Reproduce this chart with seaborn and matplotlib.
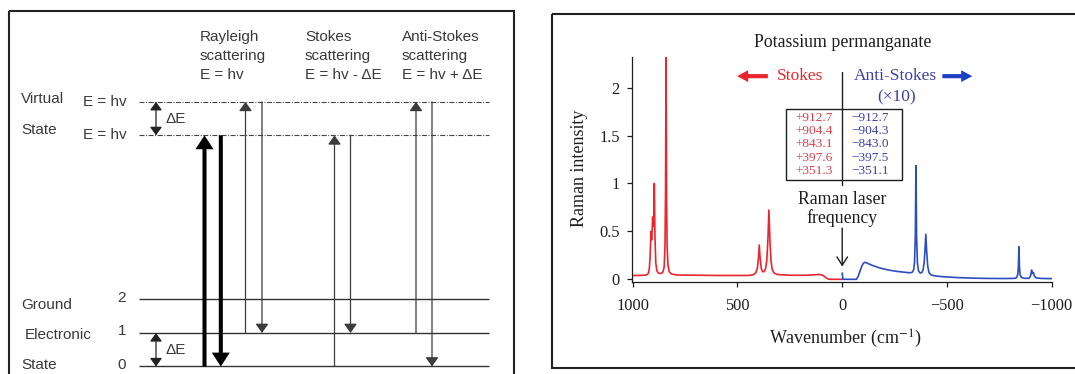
import matplotlib
matplotlib.use("Agg")
import matplotlib.pyplot as plt
from matplotlib.patches import Rectangle
import seaborn as sns

# ---------------------------------------------------------------- data
# Energy-level diagram (energies in units of one vibrational quantum)
ground_levels = [0, 1, 2]
ground_level_labels = ["0", "1", "2"]
photon_energy = 6.9          # virtual state reached by the photon, E = hv
delta_e = 1.0                # vibrational quantum

process_titles = [
    ["Rayleigh", "scattering", "E = hv"],
    ["Stokes", "scattering", "E = hv - \u0394E"],
    ["Anti-Stokes", "scattering", "E = hv + \u0394E"],
]

# Raman spectrum of KMnO4: Stokes side (red) and anti-Stokes side (blue, x10)
stokes_wavenumber = [1000, 960, 935, 926, 921, 917, 913, 910, 907.5, 905,
                     902, 899.5, 897, 894, 890, 885, 878, 865, 856, 850,
                     846, 843.5, 841, 838.5, 836, 832, 826, 815, 790, 600,
                     450, 425, 412, 405, 400, 396, 392, 386, 380, 373,
                     366, 360, 355, 350, 345, 340, 334, 325, 310, 250,
                     180, 140, 115, 100, 92, 84, 76, 68, 60, 30,
                     0]
stokes_intensity = [0.040, 0.041, 0.045, 0.06, 0.11, 0.24, 0.50, 0.41, 0.50, 0.65,
                    0.55, 0.68, 1.00, 0.45, 0.17, 0.09, 0.065, 0.06, 0.075, 0.13,
                    0.35, 0.90, 2.32, 0.90, 0.35, 0.15, 0.08, 0.055, 0.045, 0.040,
                    0.040, 0.047, 0.07, 0.12, 0.22, 0.358, 0.22, 0.11, 0.08, 0.08,
                    0.11, 0.20, 0.40, 0.723, 0.40, 0.19, 0.10, 0.065, 0.05, 0.042,
                    0.042, 0.046, 0.05, 0.048, 0.04, 0.028, 0.015, 0.005, 0.0, 0.0,
                    0.0]

anti_stokes_wavenumber = [0, -3, -40, -68, -76, -84, -92, -100, -108, -116,
                          -130, -150, -180, -220, -260, -300, -325, -335, -341, -345,
                          -349, -352, -355, -359, -364, -372, -380, -386, -391, -395,
                          -399, -403, -408, -414, -425, -445, -480, -550, -625, -700,
                          -780, -825, -833, -838, -841, -843.5, -846, -849, -855, -870,
                          -890, -897, -901, -904, -907, -910, -913, -917, -925, -950,
                          -1000]
anti_stokes_intensity = [0.065, 0.0, 0.0, 0.0, 0.03, 0.08, 0.13, 0.165, 0.178, 0.172,
                         0.158, 0.14, 0.118, 0.097, 0.083, 0.073, 0.068, 0.075, 0.10, 0.17,
                         0.45, 1.186, 0.45, 0.17, 0.09, 0.065, 0.07, 0.10, 0.17, 0.30,
                         0.47, 0.30, 0.14, 0.07, 0.045, 0.035, 0.027, 0.018, 0.012, 0.009,
                         0.008, 0.01, 0.02, 0.05, 0.13, 0.34, 0.13, 0.05, 0.02, 0.01,
                         0.01, 0.025, 0.055, 0.097, 0.06, 0.065, 0.07, 0.035, 0.015, 0.009,
                         0.007]

stokes_shifts = ["+912.7", "+904.4", "+843.1", "+397.6", "+351.3"]
anti_stokes_shifts = ["\u2212912.7", "\u2212904.3", "\u2212843.0", "\u2212397.5", "\u2212351.1"]

x_ticks = [1000, 500, 0, -500, -1000]
y_ticks = [0, 0.5, 1, 1.5, 2]
y_tick_labels = ["0", "0.5", "1", "1.5", "2"]

# ---------------------------------------------------------------- style
sns.set_theme(style="ticks")
plt.rcParams["font.family"] = ["Liberation Serif", "DejaVu Serif"]
plt.rcParams["mathtext.fontset"] = "stix"

RED = "#E8262E"
BLUE = "#2C4DBE"
RED_TXT = "#D9404C"
BLUE_TXT = "#3C40A6"
INK = "#1E1E1E"
GREY = "#3A3A3A"
SANS = ["Liberation Sans", "DejaVu Sans"]

W, H = 1075, 374
fig = plt.figure(figsize=(W / 100, H / 100), dpi=100)
fig.patch.set_facecolor("white")

# panel frames
frame = fig.add_axes([0, 0, 1, 1])
frame.set_xlim(0, W)
frame.set_ylim(H, 0)
frame.axis("off")
frame.add_patch(Rectangle((8.5, 11), 505, 380, fill=False, lw=1.5, ec="#222222"))
frame.add_patch(Rectangle((551.7, 14), 540, 354.3, fill=False, lw=1.5, ec="#222222"))

# ---------------------------------------------------------------- left: energy diagram
diag = fig.add_axes([0, 0, 540 / W, 1])
diag.set_xlim(0, 540)
diag.set_ylim(-0.224, 10.94)
diag.axis("off")

line_x0, line_x1 = 139, 489
txt = dict(fontsize=11, color=GREY, family=SANS)

for lvl, lab in zip(ground_levels, ground_level_labels):
    diag.hlines(lvl, line_x0, line_x1, color="#333333", lw=1.0)
    diag.text(122, lvl + 0.05, lab, ha="center", va="center", **txt)

virtual_levels = [photon_energy, photon_energy + delta_e]
for v in virtual_levels:
    diag.hlines(v, line_x0, line_x1, color="#444444", lw=0.8,
                linestyles=(0, (4.5, 1.4, 0.9, 1.4)))
    diag.text(83, v, "E = hv", ha="left", va="center", **txt)

diag.text(21, 7.985, "Virtual", ha="left", va="center", **txt)
diag.text(21, 7.06, "State", ha="left", va="center", **txt)
diag.text(21, 1.836, "Ground", ha="left", va="center", **txt)
diag.text(25, 0.955, "Electronic", ha="left", va="center", **txt)
diag.text(21, 0.045, "State", ha="left", va="center", **txt)

# column headings
for x_col, rows in zip([199.5, 305, 401.5], process_titles):
    for e_row, row in zip([9.83, 9.28, 8.70], rows):
        diag.text(x_col, e_row, row, ha="left", va="center", **txt)

# delta-E markers
gaps = [(photon_energy, photon_energy + delta_e), (ground_levels[0], ground_levels[1])]
for lo, hi in gaps:
    diag.annotate("", xy=(156, hi), xytext=(156, lo),
                  arrowprops=dict(arrowstyle="<|-|>,head_length=5,head_width=3.6",
                                  mutation_scale=1, lw=0.9, color="#222222",
                                  shrinkA=0, shrinkB=0))
    diag.text(166, (lo + hi) / 2, "\u0394E", ha="left", va="center", **txt)

thick = dict(arrowstyle="simple,head_length=10,head_width=13,tail_width=2.9",
             mutation_scale=1, fc="black", ec="none", shrinkA=0, shrinkB=0)
thin = dict(arrowstyle="-|>,head_length=5.5,head_width=3.9",
            mutation_scale=1, lw=0.9, color="#3C3C3C", shrinkA=0, shrinkB=0)

upper = photon_energy + delta_e
transitions = [
    (204.5, ground_levels[0], photon_energy, thick),
    (220.8, photon_energy, ground_levels[0], thick),
    (245.5, ground_levels[1], upper, thin),
    (262.0, upper, ground_levels[1], thin),
    (334.5, ground_levels[0], photon_energy, thin),
    (350.5, photon_energy, ground_levels[1], thin),
    (416.0, ground_levels[1], upper, thin),
    (432.0, upper, ground_levels[0], thin),
]
for x_arr, e_from, e_to, style in transitions:
    diag.annotate("", xy=(x_arr, e_to), xytext=(x_arr, e_from), arrowprops=style)

# ---------------------------------------------------------------- right: Raman spectrum
ax = fig.add_axes([631.7 / W, 1 - 281.7 / H, 420 / W, 225 / H])
ax.patch.set_alpha(0)

sns.lineplot(x=stokes_wavenumber, y=stokes_intensity, ax=ax, color=RED, lw=1.2,
             sort=False, estimator=None)
sns.lineplot(x=anti_stokes_wavenumber, y=anti_stokes_intensity, ax=ax, color=BLUE,
             lw=1.2, sort=False, estimator=None)

ax.set_xlim(1005, -1000)
ax.set_ylim(-0.025, 2.323)
ax.set_xticks(x_ticks)
ax.set_yticks(y_ticks)
ax.set_yticklabels(y_tick_labels)
sns.despine(ax=ax)
for side in ("left", "bottom"):
    ax.spines[side].set_color(INK)
    ax.spines[side].set_linewidth(0.9)
ax.tick_params(axis="both", direction="out", length=3.5, width=0.9, colors=INK,
               labelsize=11.8)
ax.tick_params(axis="x", pad=8)
ax.tick_params(axis="y", pad=5)

ax.set_xlabel("Wavenumber (cm$^{-1}$)", fontsize=13, color=INK)
ax.set_ylabel("Raman intensity", fontsize=13, color=INK)
ax.xaxis.set_label_coords(0.508, -0.205)
ax.yaxis.set_label_coords(-0.105, 0.505)

ax.text(0, 2.471, "Potassium permanganate", ha="center", va="center",
        fontsize=12.8, color=INK, clip_on=False)

ax.text(202, 2.12, "Stokes", ha="center", va="center", fontsize=12.5, color=RED)
ax.annotate("", xy=(502, 2.12), xytext=(355, 2.12),
            arrowprops=dict(arrowstyle="simple,head_length=8,head_width=8.5,tail_width=3",
                            mutation_scale=1, fc=RED, ec="none", shrinkA=0, shrinkB=0))
ax.text(-253, 2.12, "Anti-Stokes", ha="center", va="center", fontsize=12.5, color=BLUE_TXT)
ax.annotate("", xy=(-621, 2.12), xytext=(-478, 2.12),
            arrowprops=dict(arrowstyle="simple,head_length=8,head_width=8.5,tail_width=3",
                            mutation_scale=1, fc="#1F3FC2", ec="none", shrinkA=0, shrinkB=0))
ax.text(-258, 1.90, "(\u00d710)", ha="center", va="center", fontsize=12.5, color=BLUE_TXT)

# laser line divider and shift table
ax.plot([0, 0], [0.987, 2.164], color=INK, lw=1.0)
ax.add_patch(Rectangle((-286, 1.04), 556.6, 0.74, fill=False, lw=1.0, ec=INK))
row_y = [1.686, 1.546, 1.407, 1.267, 1.127]
for yy, s_txt, a_txt in zip(row_y, stokes_shifts, anti_stokes_shifts):
    ax.text(135.6, yy, s_txt, ha="center", va="center", fontsize=9.6, color=RED_TXT)
    ax.text(-133, yy, a_txt, ha="center", va="center", fontsize=9.6, color=BLUE_TXT)

ax.text(0, 0.83, "Raman laser", ha="center", va="center", fontsize=12.8, color=INK)
ax.text(0, 0.637, "frequency", ha="center", va="center", fontsize=12.8, color=INK)
ax.annotate("", xy=(0, 0.133), xytext=(0, 0.534),
            arrowprops=dict(arrowstyle="->,head_length=6,head_width=3.8",
                            mutation_scale=1, lw=1.0, color=INK, shrinkA=0, shrinkB=0))

fig.savefig("out.png", dpi=100)
